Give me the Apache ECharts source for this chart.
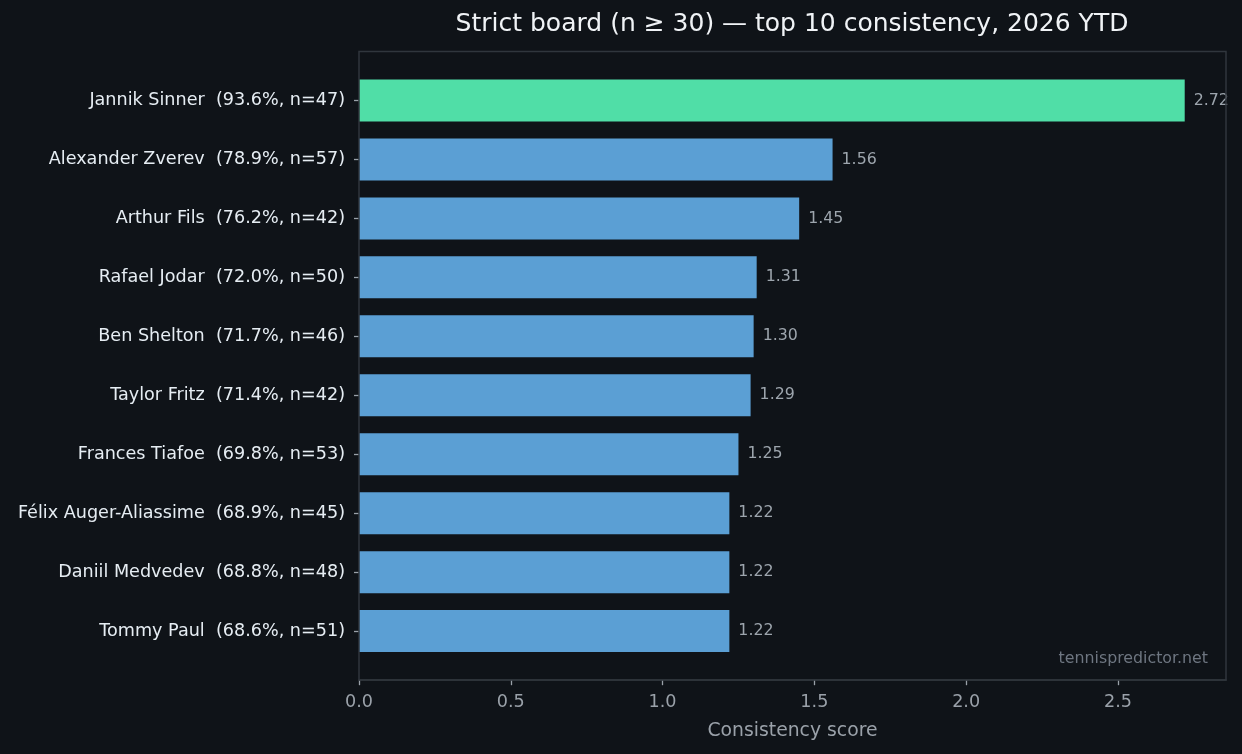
<!DOCTYPE html>
<html>
<head>
<meta charset="utf-8">
<script src="https://cdn.jsdelivr.net/npm/echarts@6/dist/echarts.min.js"></script>
<style>
  html, body { margin: 0; padding: 0; background: #0f1318; }
  #chart { width: 1242px; height: 754px; }
</style>
</head>
<body>
<div id="chart"></div>
<script>
const players = [
  'Jannik Sinner', 'Alexander Zverev', 'Arthur Fils', 'Rafael Jodar', 'Ben Shelton',
  'Taylor Fritz', 'Frances Tiafoe', 'Félix Auger-Aliassime', 'Daniil Medvedev', 'Tommy Paul'
];
const winPct = [93.6, 78.9, 76.2, 72.0, 71.7, 71.4, 69.8, 68.9, 68.8, 68.6];
const matches = [47, 57, 42, 50, 46, 42, 53, 45, 48, 51];
const scores = [2.72, 1.56, 1.45, 1.31, 1.30, 1.29, 1.25, 1.22, 1.22, 1.22];
const xTicks = [0, 0.5, 1.0, 1.5, 2.0, 2.5];

const font = "'DejaVu Sans', sans-serif";
const labels = players.map((p, i) => p + '  (' + winPct[i].toFixed(1) + '%, n=' + matches[i] + ')');

document.addEventListener('DOMContentLoaded', () => {
  const chart = echarts.init(document.querySelector('#chart'));
  chart.setOption({
    backgroundColor: '#0f1318',
    textStyle: { fontFamily: font },
    animation: false,
    title: {
      text: 'Strict board (n \u2265 30) \u2014 top 10 consistency, 2026 YTD',
      left: 787,
      top: 7,
      textAlign: 'center',
      textStyle: { color: '#f0f3f6', fontSize: 25, fontWeight: 'normal', fontFamily: font }
    },
    grid: { left: 359, right: 16, top: 71, bottom: 93.4 },
    xAxis: {
      type: 'value',
      min: 0,
      max: scores[0] * 1.05,
      interval: 0.5,
      offset: 19.6,
      name: 'Consistency score',
      nameLocation: 'middle',
      nameGap: 41,
      nameTextStyle: { color: '#9aa1a9', fontSize: 18.8, fontFamily: font },
      axisLine: { show: true, lineStyle: { color: '#30363d', width: 1.5 } },
      axisTick: { show: true, length: 5, lineStyle: { color: '#9aa1a9', width: 1.3 } },
      axisLabel: {
        color: '#9aa1a9', fontSize: 17.6, margin: 13, showMaxLabel: false, fontFamily: font,
        formatter: v => (xTicks.includes(Math.round(v * 10) / 10) ? v.toFixed(1) : '')
      },
      splitLine: { show: false }
    },
    yAxis: {
      type: 'category',
      inverse: true,
      data: labels,
      axisLine: { show: false },
      axisTick: { show: true, length: 5, alignWithLabel: true, lineStyle: { color: '#9aa1a9', width: 1.3 } },
      axisLabel: { color: '#e6edf3', fontSize: 17.6, margin: 14, fontFamily: font }
    },
    series: [{
      type: 'bar',
      barWidth: 42,
      data: scores.map((v, i) => ({
        value: v,
        itemStyle: { color: i === 0 ? '#50dea7' : '#5b9fd4' }
      })),
      label: {
        show: true,
        position: 'right',
        distance: 9,
        color: '#9da5ad',
        fontSize: 15.8,
        fontFamily: font,
        formatter: p => p.value.toFixed(2)
      }
    }],
    graphic: [
      {
        type: 'rect',
        z: 100,
        silent: true,
        shape: { x: 359, y: 51.5, width: 867, height: 628.5 },
        style: { fill: null, stroke: '#30363d', lineWidth: 1.5 }
      },
      {
        type: 'text',
        z: 100,
        right: 34,
        top: 651,
        style: { text: 'tennispredictor.net', fill: '#6e7681', fontSize: 15.8, fontFamily: font }
      }
    ]
  });
});
</script>
</body>
</html>
